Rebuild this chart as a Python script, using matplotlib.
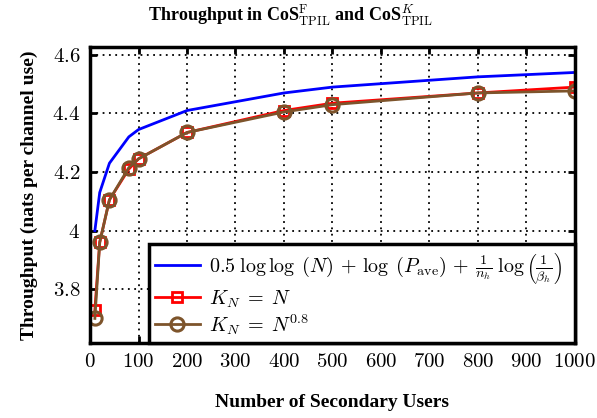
import matplotlib
matplotlib.use("Agg")
import matplotlib.pyplot as plt
from matplotlib.ticker import FuncFormatter

plt.rcParams['mathtext.fontset'] = 'cm'
plt.rcParams['font.family'] = ['Liberation Serif', 'DejaVu Serif']

N = [10, 20, 40, 80, 100, 200, 400, 500, 800, 1000]
bound = [4.00, 4.13, 4.23, 4.32, 4.345, 4.41, 4.47, 4.49, 4.525, 4.54]
kn_full = [3.73, 3.96, 4.105, 4.21, 4.245, 4.335, 4.41, 4.435, 4.47, 4.49]
kn_08 = [3.70, 3.96, 4.105, 4.215, 4.245, 4.335, 4.405, 4.43, 4.47, 4.477]

xticks = [0, 100, 200, 300, 400, 500, 600, 700, 800, 900, 1000]
yticks = [3.8, 4.0, 4.2, 4.4, 4.6]

labels = [r'$0.5\;\log\log\;(N)\,+\,\log\;(P_{\rm ave})\,+\,\frac{1}{n_h}\;\log\left(\frac{1}{\beta_h}\right)$',
          r'$K_N\;=\;N$',
          r'$K_N\;=\;N^{0.8}$']

brown = (0.49, 0.33, 0.17)

fig = plt.figure(figsize=(5.97, 4.18), dpi=100)
ax = fig.add_axes([0.1508, 0.1794, 0.8122, 0.7082])

ax.plot(N, bound, color='blue', lw=2.0, label=labels[0])
ax.plot(N, kn_full, color='red', lw=2.0, marker='s', ms=7.5, mfc='none', mec='red', mew=2.0, label=labels[1])
ax.plot(N, kn_08, color=brown, lw=2.0, marker='o', ms=9.5, mfc='none', mec=brown, mew=2.2, label=labels[2])

ax.set_xlim(0, 1000)
ax.set_ylim(3.616, 4.627)
ax.set_xticks(xticks)
ax.set_yticks(yticks)
ax.xaxis.set_major_formatter(FuncFormatter(lambda v, p: r'$%d$' % v))
ax.yaxis.set_major_formatter(FuncFormatter(lambda v, p: r'$%g$' % round(v, 1)))
ax.tick_params(direction='in', length=5, width=2.0, top=True, right=True, labelsize=15, pad=7)
ax.grid(True, color='black', linestyle=(0, (1, 2.5)), lw=1.3)
for s in ax.spines.values():
    s.set_linewidth(2.5)

ax.set_xlabel('Number of Secondary Users', fontsize=14, fontweight='bold', labelpad=16)
ax.set_ylabel('Throughput (nats per channel use)', fontsize=14, fontweight='bold', labelpad=10)
ax.set_title(r'Throughput in CoS$^{\rm F}_{\rm TPIL}$ and CoS$^{K}_{\rm TPIL}$', fontsize=13, fontweight='bold', pad=18, x=0.414)

leg = ax.legend(loc='lower left', bbox_to_anchor=(0.122, 0.0, 0.878, 0.334), mode='expand',
                borderaxespad=0, fontsize=14.5,
                fancybox=False, framealpha=1, edgecolor='black', handlelength=2.2,
                handletextpad=0.45, labelspacing=0.12, borderpad=0.3)
leg.get_frame().set_linewidth(2.5)

fig.savefig('out.png', dpi=100)
